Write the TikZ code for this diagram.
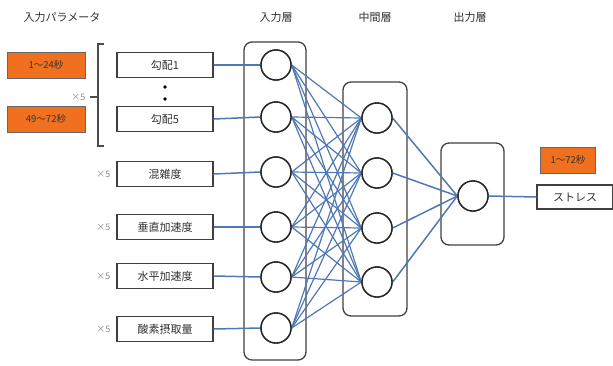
\documentclass[tikz,border=0pt]{standalone}
\usepackage{fontspec}
\setmainfont{Noto Sans CJK JP}
\definecolor{lnblue}{HTML}{4F78B5}
\definecolor{orng}{HTML}{F07020}
\definecolor{txtg}{HTML}{303030}
\begin{document}
\begin{tikzpicture}[x=1pt,y=-1pt,
  inbox/.style={draw=black!75,line width=1.3pt,minimum width=96pt,minimum height=25pt,inner sep=0pt,font=\fontsize{11}{13}\selectfont,text=txtg},
  obox/.style={draw=black!60,fill=orng,line width=1pt,minimum width=78pt,minimum height=26pt,inner sep=0pt,font=\fontsize{9.5}{11}\selectfont,text=black!80},
  neuron/.style={circle,draw=black!85,line width=1.4pt,minimum size=30pt,inner sep=0pt,fill=white},
  layer/.style={draw=black!75,line width=1.3pt,rounded corners=8pt},
  conn/.style={draw=lnblue,line width=1.5pt},
  ttl/.style={font=\fontsize{11}{13}\selectfont,text=txtg},
  times/.style={font=\fontsize{9}{10}\selectfont,text=black!45}]
\useasboundingbox (0,0) rectangle (613,365);
% titles
\node[ttl] (t0) at (62,17) {入力パラメータ};
\node[ttl] (t1) at (276,17) {入力層};
\node[ttl] (t2) at (375,17) {中間層};
\node[ttl] (t3) at (470,17) {出力層};
% layer boxes
\draw[layer] (244,42) rectangle (306,360);
\draw[layer] (343,82) rectangle (407,316);
\draw[layer] (441,143) rectangle (504,245);
% input boxes
\node[inbox] (b1) at (165,65) {勾配1};
\node[inbox] (b2) at (165,119) {勾配5};
\node[inbox] (b3) at (165,174) {混雑度};
\node[inbox] (b4) at (165,227) {垂直加速度};
\node[inbox] (b5) at (165,276) {水平加速度};
\node[inbox] (b6) at (165,329) {酸素摂取量};
\fill[black] (165,87) circle (1.8pt);
\fill[black] (165,99) circle (1.8pt);
% orange boxes
\node[obox] (o1) at (46,65) {1～24秒};
\node[obox] (o2) at (46,119) {49～72秒};
\node[obox,minimum width=55pt] (o3) at (568,160) {1～72秒};
\node[inbox,minimum width=76pt,minimum height=24pt] (st) at (575,197) {ストレス};
% bracket
\draw[black!70,line width=1.2pt] (104,44) -- (98,44) -- (98,146) -- (104,146);
\coordinate (bt) at (98,97);
\coordinate (bl) at (90,97);
\draw[black!70,line width=1.2pt] (bl) -- (bt);
\node[times,anchor=east] (x0) at (89,97) {×5};
\node[times,anchor=east] (x3) at (114,174) {×5};
\node[times,anchor=east] (x4) at (114,227) {×5};
\node[times,anchor=east] (x5) at (114,276) {×5};
\node[times,anchor=east] (x6) at (114,329) {×5};
% neurons
\foreach \i/\y in {1/65,2/117,3/172,4/227,5/277,6/328}
  \node[neuron] (i\i) at (276,\y) {};
\foreach \j/\y in {1/118,2/173,3/228,4/282}
  \node[neuron] (h\j) at (377,\y) {};
\node[neuron] (out) at (473,196) {};
% connections
\foreach \i in {1,...,6} {
  \draw[conn] (b\i.east) -- (i\i.west);
  \foreach \j in {1,...,4}
    \draw[conn,line width=1.2pt] (i\i.east) -- (h\j.west);
}
\foreach \j in {1,...,4}
  \draw[conn] (h\j.east) -- (out.west);
\draw[conn] (out.east) -- (st.west);
% redraw neurons on top
\foreach \i/\y in {1/65,2/117,3/172,4/227,5/277,6/328}
  \draw[black!85,line width=1.4pt,fill=white] (276,\y) circle (15pt);
\foreach \j/\y in {1/118,2/173,3/228,4/282}
  \draw[black!85,line width=1.4pt,fill=white] (377,\y) circle (15pt);
\draw[black!85,line width=1.4pt,fill=white] (473,196) circle (15pt);
\end{tikzpicture}
\end{document}
